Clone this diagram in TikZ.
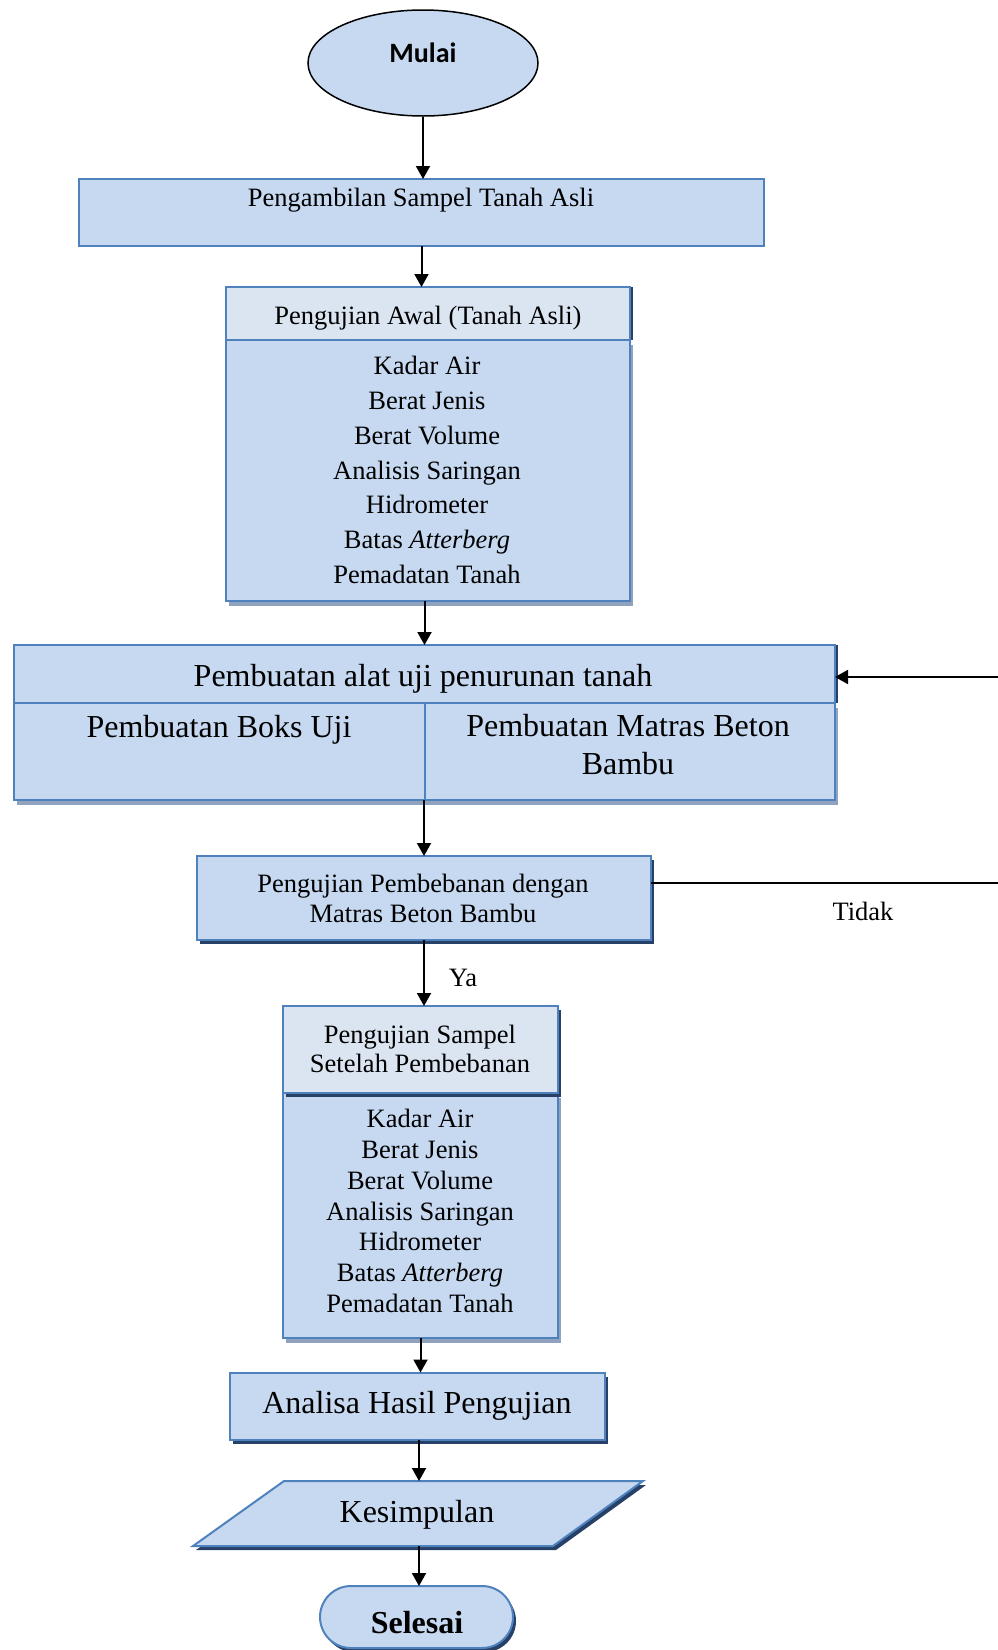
\documentclass[tikz,border=0pt]{standalone}
\usepackage{fontspec}
\setmainfont{Liberation Serif}
\newfontfamily\calibrifont{Carlito}
\usetikzlibrary{arrows.meta,calc,shapes.geometric}
\definecolor{boxfill}{RGB}{198,217,241}
\definecolor{headfill}{RGB}{219,229,241}
\definecolor{boxline}{RGB}{79,129,189}
\definecolor{shadowdark}{RGB}{38,64,104}
\definecolor{shadowgray}{RGB}{143,163,190}
\tikzset{
 box/.style={draw=boxline, fill=boxfill, line width=2pt, inner sep=0pt, outer sep=0pt},
 headbox/.style={box, fill=headfill},
 darkshadow/.style={preaction={fill=shadowdark, transform canvas={xshift=3pt,yshift=-4pt}}},
 darkside/.style={preaction={fill=shadowdark, transform canvas={xshift=3pt}}},
 grayshadow/.style={preaction={fill=shadowgray, transform canvas={xshift=3pt,yshift=-5pt}}},
 txt/.style={font=\fontsize{26.5pt}{35pt}\selectfont, inner sep=0pt, align=center},
 bigtxt/.style={font=\fontsize{32pt}{38pt}\selectfont, inner sep=0pt, align=center},
 conn/.style={line width=2pt, -{Triangle[length=13pt,width=14pt]}},
 plainline/.style={line width=2pt},
}
\begin{document}
\begin{tikzpicture}[x=1pt,y=-1pt]
\useasboundingbox (0,0) rectangle (998,1650);

% Mulai
\node[ellipse, draw=black, fill=boxfill, line width=1.5pt, minimum width=230pt, minimum height=106pt, inner sep=0pt] (mulai) at (423,63) {};
\node[font=\calibrifont\bfseries\fontsize{28pt}{34pt}\selectfont, inner sep=0pt, anchor=base] (tMulai) at (423,62) {Mulai};

% Box 1
\node[box, minimum width=685pt, minimum height=67pt] (box1) at (421.5,212.5) {};
\node[txt, anchor=base] (t1) at (421,206) {Pengambilan Sampel Tanah Asli};

% Box 2
\node[box, grayshadow, minimum width=404pt, minimum height=261pt] (b2b) at (428,470.5) {};
\node[headbox, darkside, minimum width=404pt, minimum height=53pt] (b2h) at (428,313.5) {};
\node[txt, anchor=base] (t2h) at (428,324) {Pengujian Awal (Tanah Asli)};
\node[txt, font=\fontsize{26.5pt}{34.7pt}\selectfont] (t2b) at (427,470) {Kadar Air\\Berat Jenis\\Berat Volume\\Analisis Saringan\\Hidrometer\\Batas \textit{Atterberg}\\Pemadatan Tanah};

% Box 3
\node[box, grayshadow, minimum width=411pt, minimum height=97pt] (b3l) at (219.5,751.5) {};
\node[box, grayshadow, minimum width=410pt, minimum height=97pt] (b3r) at (630,751.5) {};
\node[box, darkside, minimum width=821pt, minimum height=58pt] (b3t) at (424.5,674) {};
\node[bigtxt, anchor=base] (t3t) at (423,686.5) {Pembuatan alat uji penurunan tanah};
\node[bigtxt, anchor=base] (t3l) at (219,737.5) {Pembuatan Boks Uji};
\node[bigtxt] (t3r) at (628,745) {Pembuatan Matras Beton\\Bambu};

% Box 4
\node[box, darkshadow, minimum width=454pt, minimum height=84pt] (b4) at (424,898) {};
\node[txt, font=\fontsize{26.5pt}{30pt}\selectfont] (t4) at (423,898) {Pengujian Pembebanan dengan\\Matras Beton Bambu};

% Box 5
\node[box, grayshadow, minimum width=275pt, minimum height=245pt] (b5b) at (420.5,1215.5) {};
\node[headbox, darkshadow, minimum width=275pt, minimum height=87pt] (b5h) at (420.5,1049.5) {};
\node[txt, font=\fontsize{26.5pt}{29pt}\selectfont] (t5h) at (420,1048.5) {Pengujian Sampel\\Setelah Pembebanan};
\node[txt, font=\fontsize{26.5pt}{30.7pt}\selectfont] (t5b) at (420,1211) {Kadar Air\\Berat Jenis\\Berat Volume\\Analisis Saringan\\Hidrometer\\Batas \textit{Atterberg}\\Pemadatan Tanah};

% Analisa
\node[box, darkshadow, minimum width=375pt, minimum height=67pt] (ana) at (417.5,1406) {};
\node[bigtxt, anchor=base] (tAna) at (417,1413.5) {Analisa Hasil Pengujian};

% Kesimpulan
\path[box, darkshadow] (284,1481) -- (643,1481) -- (553,1546) -- (193,1546) -- cycle;
\coordinate (kesT) at (419,1481);
\coordinate (kesB) at (419,1546);
\node[bigtxt, anchor=base] (tKes) at (417,1522.5) {Kesimpulan};

% Selesai
\node[box, darkshadow, rounded corners=31pt, minimum width=193pt, minimum height=62pt] (sel) at (416.5,1617) {};
\node[bigtxt, font=\bfseries\fontsize{32pt}{38pt}\selectfont, anchor=base] (tSel) at (417,1633) {Selesai};

% Labels
\node[txt, anchor=base] (tTidak) at (863,920) {Tidak};
\node[txt, anchor=base] (tYa) at (463,986) {Ya};

% Connectors
\draw[conn] (mulai.south) -- (mulai.south |- box1.north);
\draw[conn] (box1.south) -- (box1.south |- b2h.north);
\draw[conn] (b2b.south -| b3t.north) -- (b3t.north);
\draw[conn] (b4.north |- b3l.south) -- (b4.north);
\draw[conn] (b4.south) -- (b4.south |- b5h.north);
\draw[conn] (b5b.south) -- (b5b.south |- ana.north);
\draw[conn] (ana.south -| kesT) -- (kesT);
\draw[conn] (kesB) -- (kesB |- sel.north);
\coordinate (edgeLow) at (998,883);
\coordinate (edgeHigh) at (998,677);
\draw[plainline] (b4.east |- edgeLow) -- (edgeLow);
\draw[conn] (edgeHigh) -- (b3t.east |- edgeHigh);
\end{tikzpicture}
\end{document}
